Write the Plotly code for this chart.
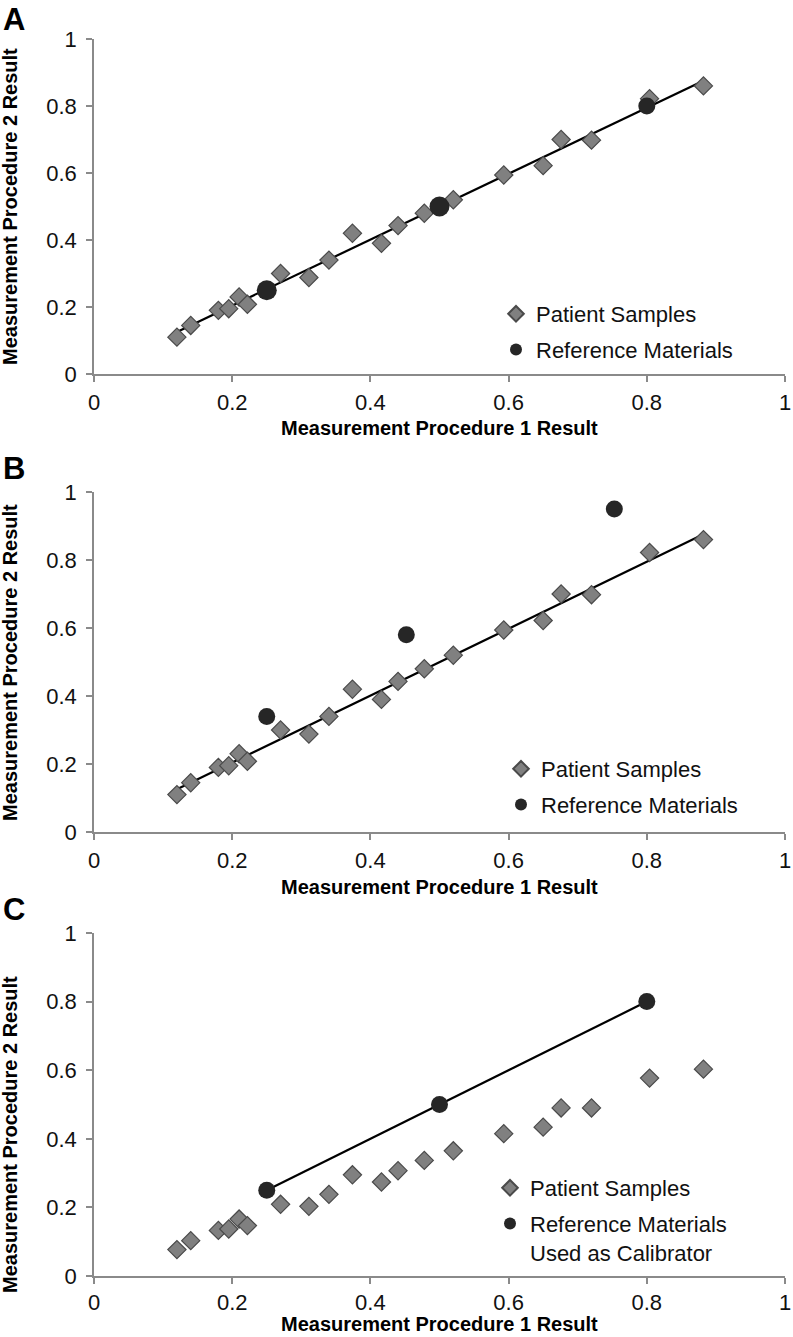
import numpy as np
import plotly.graph_objects as go

# ---------------- data ----------------
patient_x = [0.12, 0.14, 0.18, 0.195, 0.21, 0.222, 0.27, 0.311, 0.34, 0.374,
             0.416, 0.44, 0.478, 0.52, 0.593, 0.65, 0.676, 0.72, 0.804, 0.882]
patient_y_ab = [0.11, 0.145, 0.19, 0.195, 0.23, 0.208, 0.30, 0.288, 0.34, 0.42,
                0.39, 0.443, 0.48, 0.52, 0.594, 0.622, 0.70, 0.698, 0.822, 0.86]
patient_y_c = [0.077, 0.103, 0.133, 0.137, 0.166, 0.147, 0.209, 0.203, 0.238, 0.295,
               0.274, 0.307, 0.337, 0.365, 0.415, 0.434, 0.49, 0.49, 0.577, 0.603]

ref_x_a = [0.25, 0.50, 0.80]
ref_y_a = [0.25, 0.50, 0.80]
ref_x_b = [0.25, 0.452, 0.753]
ref_y_b = [0.34, 0.58, 0.95]
ref_x_c = [0.25, 0.50, 0.80]
ref_y_c = [0.25, 0.50, 0.80]

tick_vals = [0, 0.2, 0.4, 0.6, 0.8, 1]
tick_text = ["0", "0.2", "0.4", "0.6", "0.8", "1"]

panel_letters = ["A", "B", "C"]
x_title = "Measurement Procedure 1 Result"
y_title = "Measurement Procedure 2 Result"
name_patient = "Patient Samples"
name_ref = "Reference Materials"
name_ref_c = "Reference Materials<br>Used as Calibrator"

# ---------------- layout geometry (pixels in the 793x1337 window) ----------------
W, H = 793, 1337
px_x = lambda p: p / W
px_y = lambda p: 1 - p / H

x_left, x_right = 94, 785
panels = [(39, 374), (492, 832), (933, 1276)]  # (top, bottom) pixel of y=1 and y=0
letter_tops = [0, 449, 890]
x_title_centers = [428, 887, 1324]
x_label_standoff = [2, 2, 0]
y_title_centers = [207, 663, 1135]
legend_pos = [(496, 293), (501, 748), (490, 1167)]

FONT = "Arial, 'Liberation Sans', Helvetica, sans-serif"
AXIS_GREY = "#8a8a8a"
DIAMOND_FILL = "#808080"
DIAMOND_EDGE = "#4a4a4a"
CIRCLE_FILL = "#262626"

fig = go.Figure()

def fit_line(xs, ys):
    k, b = np.polyfit(xs, ys, 1)
    x0, x1 = min(xs), max(xs)
    return [x0, x1], [k * x0 + b, k * x1 + b]

diamond_marker = dict(symbol="diamond", size=14, color=DIAMOND_FILL, opacity=1,
                      line=dict(color=DIAMOND_EDGE, width=1.2))

panel_data = [
    (patient_y_ab, ref_x_a, ref_y_a, name_ref, [20, 20, 17], "fit"),
    (patient_y_ab, ref_x_b, ref_y_b, name_ref, [17, 17, 17], "fit"),
    (patient_y_c, ref_x_c, ref_y_c, name_ref_c, [17, 17, 17], "ref"),
]

for i, (py, rx, ry, rname, rsizes, linemode) in enumerate(panel_data):
    suffix = "" if i == 0 else str(i + 1)
    xa, ya = "x" + suffix, "y" + suffix
    leg = "legend" + suffix

    if linemode == "fit":
        lx, ly = fit_line(patient_x, py)
    else:
        lx, ly = rx, ry
    fig.add_trace(go.Scatter(x=lx, y=ly, mode="lines", xaxis=xa, yaxis=ya,
                             line=dict(color="black", width=2.2),
                             showlegend=False, hoverinfo="skip"))
    fig.add_trace(go.Scatter(x=patient_x, y=py, mode="markers", xaxis=xa, yaxis=ya,
                             name=name_patient, marker=diamond_marker,
                             legend=leg, legendgroup=f"p{i}"))
    fig.add_trace(go.Scatter(x=rx, y=ry, mode="markers", xaxis=xa, yaxis=ya,
                             name=rname, legend=leg, legendgroup=f"r{i}",
                             marker=dict(symbol="circle", size=rsizes, color=CIRCLE_FILL,
                                         opacity=1, line=dict(width=0))))

    top, bottom = panels[i]
    axis_common = dict(range=[0, 1], showgrid=False, zeroline=False, showline=True,
                       linecolor=AXIS_GREY, linewidth=1.5, ticks="outside",
                       tickcolor=AXIS_GREY, tickwidth=1.5, ticklen=6,
                       tickvals=tick_vals, ticktext=tick_text, automargin=False,
                       tickfont=dict(family=FONT, size=22, color="#111111"),
                       fixedrange=True)
    fig.layout["xaxis" + suffix] = dict(axis_common, domain=[px_x(x_left), px_x(x_right)],
                                        anchor=ya, ticklabelstandoff=x_label_standoff[i])
    fig.layout["yaxis" + suffix] = dict(axis_common, domain=[px_y(bottom), px_y(top)],
                                        anchor=xa, ticklabelstandoff=5)

    lx0, ly0 = legend_pos[i]
    fig.layout[leg] = dict(x=px_x(lx0), y=px_y(ly0), xanchor="left", yanchor="top",
                           xref="paper", yref="paper", valign="top",
                           bgcolor="rgba(0,0,0,0)", borderwidth=0,
                           font=dict(family=FONT, size=22, color="#111111"),
                           itemsizing="constant", tracegroupgap=4)

    # panel letter
    fig.add_annotation(x=px_x(1), y=px_y(letter_tops[i]), xref="paper", yref="paper",
                       xanchor="left", yanchor="top", showarrow=False,
                       text=panel_letters[i],
                       font=dict(family=FONT, size=31, color="black", weight="bold"))
    # x title
    fig.add_annotation(x=px_x((x_left + x_right) / 2), y=px_y(x_title_centers[i]),
                       xref="paper", yref="paper", xanchor="center", yanchor="middle",
                       showarrow=False, text=x_title,
                       font=dict(family=FONT, size=20, color="black", weight="bold"))

for c in y_title_centers:
    fig.add_annotation(x=px_x(10), y=px_y(c), xref="paper", yref="paper",
                       xanchor="center", yanchor="middle", showarrow=False,
                       textangle=-90, text=y_title,
                       font=dict(family=FONT, size=20, color="black", weight="bold"))

fig.update_layout(width=W, height=H, margin=dict(l=0, r=0, t=0, b=0, autoexpand=False),
                  paper_bgcolor="white", plot_bgcolor="white",
                  font=dict(family=FONT), showlegend=True)

# remove the browser's default 8px body margin so the figure fills the window
fig.write_html("out.html", config={"displayModeBar": False},
               post_script="document.body.style.margin='0';")
